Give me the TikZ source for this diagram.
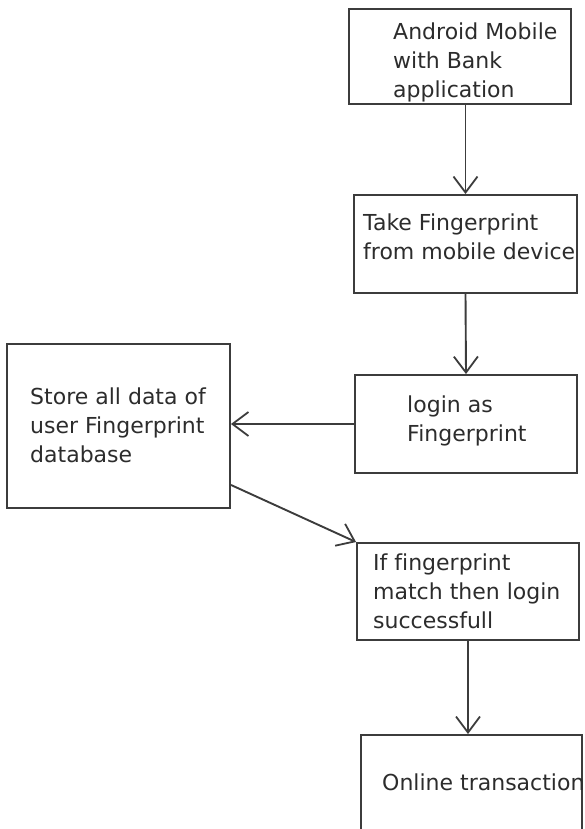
\documentclass[tikz,border=0pt]{standalone}
\usepackage{fontspec}
\setmainfont{DejaVu Sans}[Ligatures=NoCommon]
\usepackage{xcolor}
\usetikzlibrary{arrows.meta,positioning}

\definecolor{linegray}{HTML}{3C3C3C}
\definecolor{textgray}{HTML}{2C2C2C}

\begin{document}
\begin{tikzpicture}[x=1pt,y=-1pt,
	box/.style={draw=linegray,line width=1.9pt,minimum width=222pt,inner sep=0pt},
	txt/.style={anchor=west,align=left,inner sep=0pt,text=textgray,font=\fontsize{22}{29}\selectfont},
	arr/.style={draw=linegray,line width=1.9pt,-{Straight Barb[length=16pt,width=24pt,line width=1.8pt]}}]
		
		\clip (0,0) rectangle (585,829);
		
		% boxes
		\node[box,minimum height=95pt] (b1) at (460,56.5) {};
		\node[box,minimum height=98pt,minimum width=223pt] (b2) at (465.5,244) {};
		\node[box,minimum height=98pt] (b3) at (466,424) {};
		\node[box,minimum height=164pt,minimum width=223pt] (b4) at (118.5,426) {};
		\node[box,minimum height=97pt] (b5) at (468,591.5) {};
		\node[box,minimum height=160pt,minimum width=221pt] (b6) at (471.5,815) {};
		
		% texts
		\node[txt] (t1) at (393,62.5) {Android Mobile\\with Bank\\application};
		\node[txt] (t2) at (363,237) {Take Fingerprint\\from mobile device};
		\node[txt] (t3) at (407,421) {login as\\Fingerprint};
		\node[txt] (t4) at (30,425.5) {Store all data of\\user Fingerprint\\database};
		\node[txt] (t5) at (373,591) {If fingerprint\\match then login\\successfull};
		\node[txt] (t6) at (382,782) {Online transaction};
		
		% arrows
		\coordinate (dbout) at ([yshift=24pt]b4.south east);
		\draw[arr] (b2.north |- b1.south) -- (b2.north);
		\draw[arr] (b2.south) -- (b3.north);
		\draw[arr] (b3.west) -- (b4.east |- b3.west);
		\draw[arr] (dbout) -- (b5.north west);
		\draw[arr] (b5.south) -- (b6.north -| b5.south);
\end{tikzpicture}
\end{document}
